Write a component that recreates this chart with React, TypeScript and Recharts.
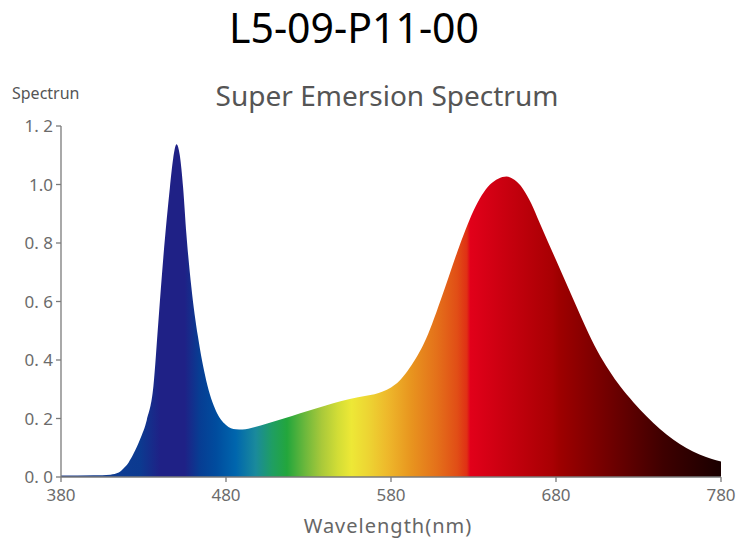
import React from 'react';
import { AreaChart, Area, XAxis, YAxis } from 'recharts';

// Wavelength (nm) samples and relative intensity
const wavelengths = [
  380, 400, 410, 415, 418, 421, 424, 428, 432, 436, 439, 442, 446, 448, 450, 452, 454, 456, 459, 463,
  468, 474, 480, 486, 490, 497, 505, 515, 525, 535, 545, 555, 565, 570, 575, 580, 585, 590, 595, 600,
  605, 610, 615, 620, 625, 630, 635, 640, 645, 650, 655, 660, 665, 670, 675, 680, 686, 692, 698, 705,
  712, 719, 727, 735, 743, 751, 759, 767, 774, 780,
];
const intensity = [
  0.005, 0.006, 0.008, 0.015, 0.03, 0.05, 0.08, 0.13, 0.195, 0.31, 0.53, 0.75, 0.99, 1.09, 1.138, 1.1, 0.99, 0.83, 0.65, 0.48,
  0.33, 0.225, 0.178, 0.163, 0.162, 0.17, 0.183, 0.2, 0.218, 0.235, 0.252, 0.267, 0.278, 0.283, 0.292, 0.306, 0.328, 0.362, 0.405, 0.457,
  0.525, 0.603, 0.685, 0.767, 0.843, 0.91, 0.963, 1.0, 1.02, 1.027, 1.015, 0.985, 0.935, 0.87, 0.805, 0.742, 0.665, 0.588, 0.512, 0.432,
  0.366, 0.309, 0.255, 0.207, 0.164, 0.128, 0.099, 0.077, 0.062, 0.053,
];

const xTicks = [380, 480, 580, 680, 780];
const yTicks = [0, 0.2, 0.4, 0.6, 0.8, 1.0, 1.2];
const yTickLabels = ['0. 0', '0. 2', '0. 4', '0. 6', '0. 8', '1.0', '1. 2'];

// colour of the fill at a given wavelength
const stopWavelengths = [380, 415, 428, 440, 455, 464, 474, 486, 498, 508, 517, 528, 538, 548, 556, 566, 578, 592, 608, 620, 626, 628, 650, 678, 682, 715, 745, 780];
const stopColors = [
  '#1a3a8a', '#0d3c92', '#0c3a90', '#1f2186', '#1f2186', '#073d93', '#004c9e', '#0066ad', '#1a8a9c', '#1f9e62',
  '#23a63c', '#6cb83c', '#a9c93a', '#d3dd36', '#ede836', '#edd533', '#eeb82b', '#e8951f', '#e4701a', '#e14e16',
  '#df3014', '#e2001a', '#c8000f', '#a80003', '#9e0000', '#6c0000', '#3e0000', '#1a0000',
];

const data = wavelengths.map((wl, i) => ({ wl, v: intensity[i] }));

const FONT = '"Noto Sans", sans-serif';
const AXIS = '#7a7a7a';

export default function App() {
  return (
    <div style={{ position: 'absolute', left: 0, top: 0, width: 741, height: 542, background: '#fff', fontFamily: FONT }}>
      <div style={{ position: 'absolute', left: 0, width: 708, top: 7, textAlign: 'center', fontSize: 41, lineHeight: 1, color: '#000' }}>
        L5-09-P11-00
      </div>
      <div style={{ position: 'absolute', left: 187, width: 400, top: 81, textAlign: 'center', fontSize: 28, lineHeight: 1, color: '#555' }}>
        Super Emersion Spectrum
      </div>
      <div style={{ position: 'absolute', left: 12, top: 85, fontSize: 16, lineHeight: 1, color: '#555' }}>Spectrun</div>
      <div style={{ position: 'absolute', left: 188, width: 400, top: 516, textAlign: 'center', fontSize: 20, lineHeight: 1, letterSpacing: 1, color: '#666' }}>
        Wavelength(nm)
      </div>

      <AreaChart width={741} height={542} data={data} margin={{ top: 126, right: 20, left: 0, bottom: 0 }}>
        <defs>
          <linearGradient id="spectrum" x1="0" y1="0" x2="1" y2="0">
            {stopWavelengths.map((w, i) => (
              <stop key={w} offset={(w - 380) / 400} stopColor={stopColors[i]} />
            ))}
          </linearGradient>
        </defs>
        <XAxis
          dataKey="wl"
          type="number"
          domain={[380, 780]}
          ticks={xTicks}
          height={65}
          tickSize={5}
          tickMargin={7}
          stroke={AXIS}
          strokeWidth={1.3}
          tick={{ fill: '#6b6b6b', fontSize: 17, fontFamily: FONT }}
          interval={0}
        />
        <YAxis
          type="number"
          domain={[0, 1.2]}
          ticks={yTicks}
          width={61}
          tickSize={5}
          tickMargin={3}
          stroke={AXIS}
          strokeWidth={1.3}
          tickFormatter={(v: number) => yTickLabels[yTicks.indexOf(v)] ?? String(v)}
          tick={{ fill: '#6b6b6b', fontSize: 17, fontFamily: FONT }}
          interval={0}
        />
        <Area
          type="monotone"
          dataKey="v"
          stroke="none"
          fill="url(#spectrum)"
          fillOpacity={1}
          isAnimationActive={false}
          dot={false}
          activeDot={false}
        />
      </AreaChart>
    </div>
  );
}
